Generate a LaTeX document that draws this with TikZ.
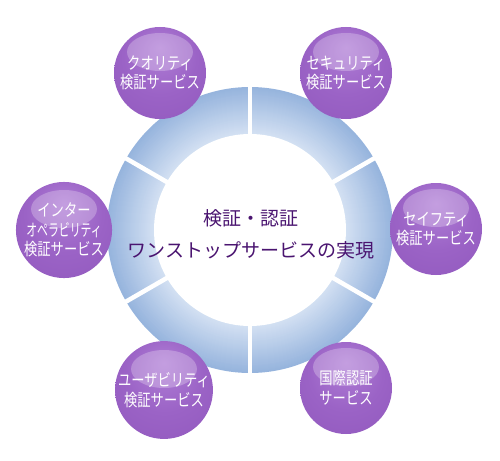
\documentclass[tikz,border=0pt]{standalone}
\usepackage{fontspec}
\newfontfamily\cjk{Noto Sans CJK JP}
\newfontfamily\cjkc[FakeStretch=0.78]{Noto Sans CJK JP}
\definecolor{ringin}{HTML}{D4E1F3}
\definecolor{ringout}{HTML}{96B4DD}
\definecolor{purpA}{HTML}{B07ED6}
\definecolor{purpB}{HTML}{9B63C6}
\definecolor{purpC}{HTML}{8C53B9}
\definecolor{centertxt}{HTML}{4A1470}
\pgfdeclareradialshading{purpsh}{\pgfpoint{0bp}{14bp}}{color(0bp)=(purpA);color(20bp)=(purpB);color(50bp)=(purpC)}
\usetikzlibrary{calc}
\tikzset{
  bubble/.style={circle, minimum size=92pt, inner sep=0pt, shading=purpsh,
    text=white, align=center, font=\cjkc\fontsize{17}{19.5}\selectfont,
    path picture={\fill[white, opacity=0.25] ($(path picture bounding box.center)+(0,-21)$) ellipse (33 and 19);}},
  gap/.style={white, line width=4.5pt}
}
\begin{document}
\begin{tikzpicture}[x=1pt, y=-1pt]
\useasboundingbox (0,0) rectangle (500,460);
\coordinate (c) at (250,230);
% ring with radial gradient
\foreach \i in {0,...,47}{
  \pgfmathtruncatemacro{\p}{\i*100/47}
  \fill[ringin!\p!ringout] (c) circle ({143-\i});
}
\fill[white] (c) circle (96);
\foreach \a in {30,90,150,210,270,330}{
  \draw[gap] ($(c)+(\a:90)$) -- ($(c)+(\a:146)$);
}
% centre text
\node[font=\cjk\fontsize{19}{32}\selectfont, text=centertxt, align=center] (title) at (251,234) {検証・認証\\ワンストップサービスの実現};
% bubbles
\node[bubble] (quality) at (160,73) {クオリティ\\検証サービス};
\node[bubble] (security) at (346,73) {セキュリティ\\検証サービス};
\node[bubble] (interop) at (64,230) {インター\\\scalebox{0.82}[1]{オペラビリティ}\\検証サービス};
\node[bubble] (safety) at (436,229) {セイフティ\\検証サービス};
\node[bubble] (usability) at (164,390) {ユーザビリティ\\検証サービス};
\node[bubble] (intl) at (346,388) {国際認証\\サービス};
\end{tikzpicture}
\end{document}
